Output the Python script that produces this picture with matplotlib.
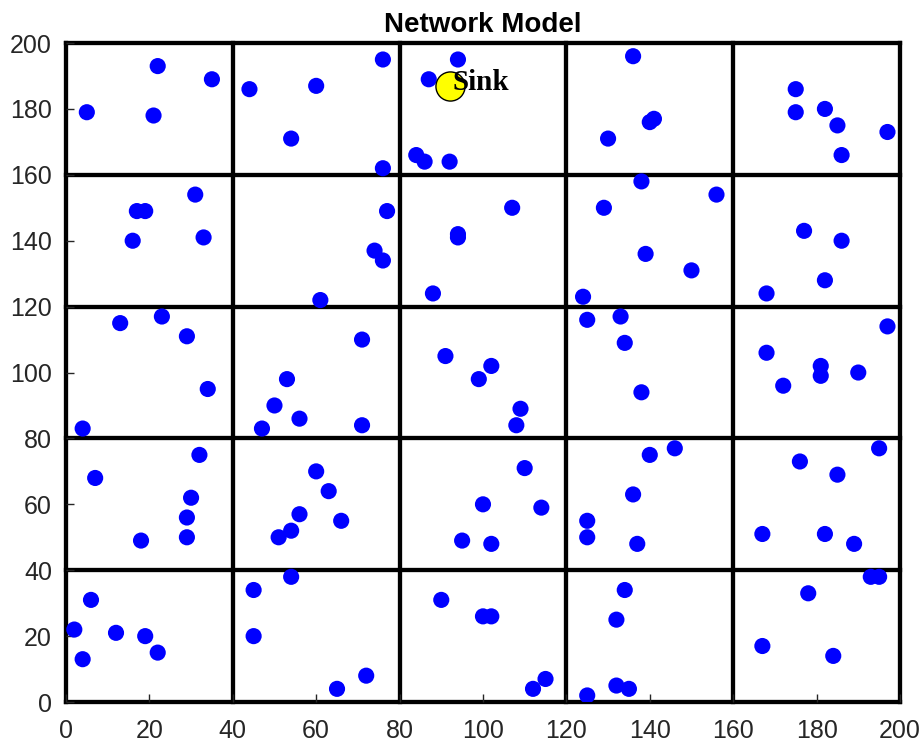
import matplotlib
matplotlib.use('Agg')
import matplotlib.pyplot as plt
import numpy as np

# sensor node positions (x, y) in a 200 x 200 field
node_x = [5, 22, 21, 35, 44, 60, 54, 76, 76, 87, 94, 84, 86, 92,
          136, 130, 140, 141, 175, 175, 182, 185, 186, 197,
          16, 17, 19, 31, 33, 77, 74, 76, 61, 94, 94, 107, 88,
          129, 138, 139, 150, 156, 124, 177, 186, 168, 182,
          13, 23, 29, 34, 4, 53, 50, 56, 47, 71, 71,
          91, 99, 102, 109, 108, 125, 133, 134, 138,
          168, 172, 181, 181, 190, 197,
          7, 18, 29, 29, 30, 32, 60, 63, 56, 54, 51, 66,
          95, 100, 102, 110, 114, 125, 125, 136, 137, 140, 146,
          167, 176, 185, 182, 189, 195,
          2, 4, 6, 12, 19, 22, 45, 45, 54, 65, 72,
          90, 100, 102, 112, 115, 125, 132, 134, 132, 135,
          167, 178, 184, 193, 195]
node_y = [179, 193, 178, 189, 186, 187, 171, 195, 162, 189, 195, 166, 164, 164,
          196, 171, 176, 177, 186, 179, 180, 175, 166, 173,
          140, 149, 149, 154, 141, 149, 137, 134, 122, 142, 141, 150, 124,
          150, 158, 136, 131, 154, 123, 143, 140, 124, 128,
          115, 117, 111, 95, 83, 98, 90, 86, 83, 84, 110,
          105, 98, 102, 89, 84, 116, 117, 109, 94,
          106, 96, 102, 99, 100, 114,
          68, 49, 56, 50, 62, 75, 70, 64, 57, 52, 50, 55,
          49, 60, 48, 71, 59, 55, 50, 63, 48, 75, 77,
          51, 73, 69, 51, 48, 77,
          22, 13, 31, 21, 20, 15, 34, 20, 38, 4, 8,
          31, 26, 26, 4, 7, 2, 25, 34, 5, 4,
          17, 33, 14, 38, 38]

sink_x, sink_y = 92, 187
cell_edges = [0, 40, 80, 120, 160, 200]
tick_vals = [0, 20, 40, 60, 80, 100, 120, 140, 160, 180, 200]

plt.rcParams['font.family'] = ['Liberation Sans', 'DejaVu Sans']

fig = plt.figure(figsize=(9.24, 7.47), dpi=100)
ax = fig.add_axes([0.0714, 0.0602, 0.9026, 0.8822])

# grid of clusters (outer edges included, so they form the frame)
for e in cell_edges:
    ax.axvline(e, color='black', lw=3.1, zorder=1, clip_on=False)
    ax.axhline(e, color='black', lw=3.1, zorder=1, clip_on=False)

ax.scatter(node_x, node_y, s=135, c='#0000FF', edgecolors='none', zorder=3)
ax.scatter([sink_x], [sink_y], s=440, c='#FFFF00', edgecolors='black',
           linewidths=1, zorder=4)
ax.text(sink_x + 0.8, sink_y + 1, 'Sink', family='Liberation Serif',
        fontweight='bold', fontsize=21, ha='left', va='center', zorder=5)

ax.set_xlim(0, 200)
ax.set_ylim(0, 200)
ax.set_xticks(tick_vals)
ax.set_yticks(tick_vals)
ax.tick_params(direction='in', length=6, width=1, labelsize=18,
               colors='#262626', top=False, right=False)
ax.tick_params(axis='x', pad=12)
ax.tick_params(axis='y', pad=10)
for sp in ax.spines.values():
    sp.set_visible(False)

ax.set_title('Network Model', fontsize=20, fontweight='bold', pad=8)

fig.savefig('out.png', dpi=100)
